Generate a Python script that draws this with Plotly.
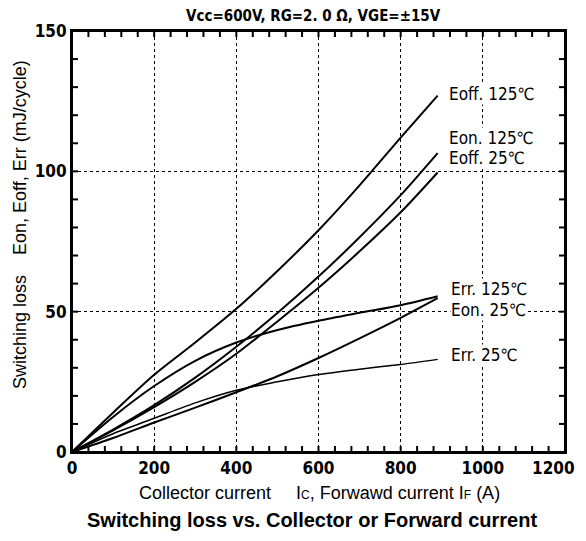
import numpy as np
import plotly.graph_objects as go

# ---- data ----
current_A = [0, 100, 200, 300, 400, 500, 600, 700, 800, 890]

eoff_125 = [0, 14.0, 27.5, 39.0, 51.0, 64.5, 79.0, 95.0, 112.0, 127.0]
eon_125 = [0, 8.0, 16.7, 26.5, 37.5, 49.5, 62.5, 76.5, 91.5, 106.5]
eoff_25 = [0, 7.7, 16.0, 25.0, 35.0, 46.5, 58.5, 71.5, 85.4, 99.6]
err_125 = [0, 12.5, 23.5, 32.5, 39.0, 43.5, 46.8, 49.6, 52.3, 55.5]
eon_25 = [0, 5.0, 10.5, 15.8, 21.3, 27.0, 33.5, 40.5, 47.8, 54.8]
err_25 = [0, 6.5, 12.0, 17.5, 22.0, 25.0, 27.6, 29.5, 31.2, 33.0]

series_names = ["Eoff. 125℃", "Eon. 125℃", "Eoff. 25℃", "Err. 125℃", "Eon. 25℃", "Err. 25℃"]
series_values = [eoff_125, eon_125, eoff_25, err_125, eon_25, err_25]

x_ticks = [0, 200, 400, 600, 800, 1000, 1200]
y_ticks = [0, 50, 100, 150]

# ---- styling / layout constants ----
X_MAX, Y_MAX = 1200, 150
line_widths = [2, 2, 2, 2, 2, 1.5]
label_x = [915, 915, 915, 920, 920, 920]
label_y = [127.5, 112.0, 104.7, 58.0, 50.6, 34.5]
X_MINOR_STEP, Y_MINOR_STEP = 40, 10
TICK_PX = 6

GOTHIC = "DejaVu Sans Condensed, Liberation Sans Narrow, Arial Narrow, sans-serif"
SANS = "Liberation Sans, Arial, Helvetica, sans-serif"

# the page body adds an 8px margin on every side; keep the page within the window
OFF = 8
W, H = 586 - 2 * OFF, 541 - 2 * OFF
PL, PR, PT, PB = 72, 565, 31, 452          # plot area in reference (page) pixels
ML, MT = PL - OFF, PT - OFF
MR, MB = W - (PR - OFF), H - (PB - OFF)

tick_dx = TICK_PX * X_MAX / (PR - PL)
tick_dy = TICK_PX * Y_MAX / (PB - PT)


def px_to_paper(px, py):
    return (px - PL) / (PR - PL), (PB - py) / (PB - PT)


fig = go.Figure()

# inside ticks on all four sides
tx_list, ty_list = [], []
for v in np.arange(0, X_MAX + 1, X_MINOR_STEP):
    tx_list += [float(v), float(v), None, float(v), float(v), None]
    ty_list += [0.0, tick_dy, None, float(Y_MAX), Y_MAX - tick_dy, None]
for v in np.arange(0, Y_MAX + 1, Y_MINOR_STEP):
    tx_list += [0.0, tick_dx, None, float(X_MAX), X_MAX - tick_dx, None]
    ty_list += [float(v), float(v), None, float(v), float(v), None]
fig.add_trace(go.Scatter(x=tx_list, y=ty_list, mode="lines",
                         line=dict(color="black", width=2),
                         showlegend=False, hoverinfo="skip"))
# inner half of the plot frame
fig.add_trace(go.Scatter(x=[0, X_MAX, X_MAX, 0, 0], y=[0, 0, Y_MAX, Y_MAX, 0],
                         mode="lines", line=dict(color="black", width=2),
                         showlegend=False, hoverinfo="skip"))

for name, vals, lw in zip(series_names, series_values, line_widths):
    fig.add_trace(go.Scatter(
        x=current_A, y=vals, mode="lines", name=name,
        line=dict(color="black", width=lw, shape="spline", smoothing=0.8),
        showlegend=False, hoverinfo="x+y+name",
    ))

for name, lx, ly in zip(series_names, label_x, label_y):
    fig.add_annotation(
        x=lx, y=ly, xref="x", yref="y", text=name, showarrow=False,
        xanchor="left", yanchor="middle", bgcolor="white", borderpad=0,
        font=dict(family=GOTHIC, size=17, color="black"),
    )

tx, ty = px_to_paper(313, 16)
fig.add_annotation(
    x=tx, y=ty, xref="paper", yref="paper",
    text="<b>Vcc=600V, RG=2. 0 Ω, VGE=±15V</b>",
    showarrow=False, xanchor="center", yanchor="middle",
    font=dict(family=GOTHIC, size=15, color="black"),
)

tx, ty = px_to_paper(20, 225)
fig.add_annotation(
    x=tx, y=ty, xref="paper", yref="paper",
    text="Switching loss\u00a0\u00a0\u00a0 Eon, Eoff, Err (mJ/cycle)",
    textangle=-90, showarrow=False, xanchor="center", yanchor="middle",
    font=dict(family=SANS, size=18, color="black"),
)

tx, ty = px_to_paper(319, 493)
fig.add_annotation(
    x=tx, y=ty, xref="paper", yref="paper",
    text="Collector current\u00a0\u00a0\u00a0\u00a0 I<span style='font-size:12px'>C</span>, Forwawd current I<span style='font-size:12px'>F</span> (A)",
    showarrow=False, xanchor="center", yanchor="middle",
    font=dict(family=SANS, size=18, color="black"),
)

tx, ty = px_to_paper(312, 520)
fig.add_annotation(
    x=tx, y=ty, xref="paper", yref="paper",
    text="<b>Switching loss vs. Collector or Forward current</b>",
    showarrow=False, xanchor="center", yanchor="middle",
    font=dict(family=SANS, size=20, color="black"),
)

# last x tick label sits at the page edge: right-aligned so it is not clipped
tick_font = dict(family=GOTHIC, size=17, color="black", weight="bold")
tx, ty = px_to_paper(OFF + W - 1, 468)
fig.add_annotation(
    x=tx, y=ty, xref="paper", yref="paper", text=str(x_ticks[-1]),
    showarrow=False, xanchor="right", yanchor="middle", font=tick_font,
)

axis_common = dict(
    showline=True, linecolor="black", linewidth=2, mirror=True,
    ticks="", showgrid=True, gridcolor="black", gridwidth=1.3, griddash="dot",
    zeroline=False, tickfont=tick_font,
)

fig.update_xaxes(range=[0, X_MAX], tickmode="array", tickvals=x_ticks,
                 ticktext=[str(v) for v in x_ticks[:-1]] + [""], **axis_common)
fig.update_yaxes(range=[0, Y_MAX], tickmode="array", tickvals=y_ticks,
                 ticktext=[str(v) for v in y_ticks], **axis_common)

fig.update_layout(
    width=W, height=H,
    margin=dict(l=ML, r=MR, t=MT, b=MB, pad=0),
    plot_bgcolor="white", paper_bgcolor="white",
)

fig.write_html("out.html")
